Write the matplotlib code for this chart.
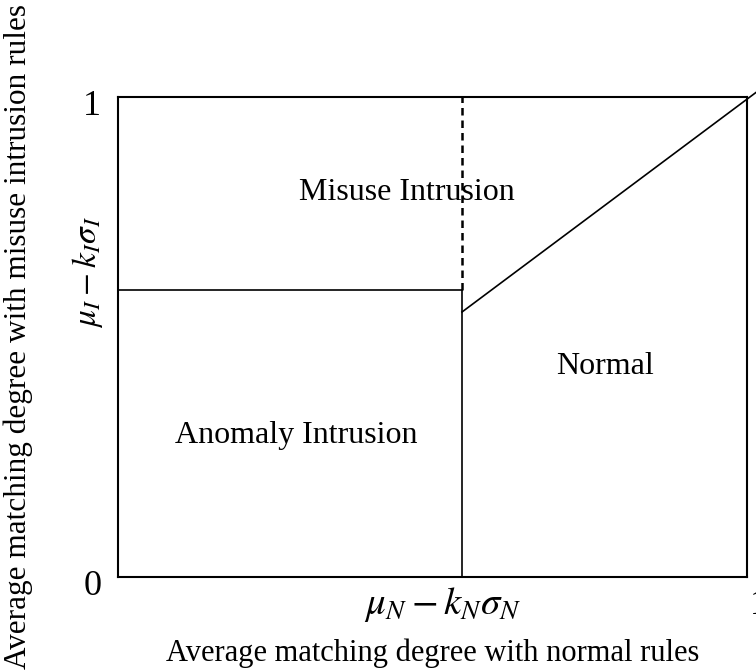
import matplotlib.pyplot as plt
from matplotlib.transforms import ScaledTranslation

plt.rcParams['font.family'] = 'Liberation Serif'
plt.rcParams['mathtext.fontset'] = 'stix'

# thresholds (fraction of the unit square)
x_thr = 0.547   # mu_N - k_N sigma_N
y_thr = 0.598   # mu_I - k_I sigma_I
diag_x = [0.547, 1.015]
diag_y = [0.552, 1.01]

regions = ['Misuse Intrusion', 'Normal', 'Anomaly Intrusion']
region_x = [0.459, 0.774, 0.283]
region_y = [0.80, 0.4375, 0.294]

x_ticks = [x_thr, 1.0]
x_labels = [r'$\mu_N - k_N\sigma_N$', '1']
y_ticks = [0, y_thr, 1]
y_labels = ['0', r'$\mu_I - k_I\sigma_I$', '1']

fig = plt.figure(figsize=(7.56, 6.72), dpi=100)
ax = fig.add_axes([0.156, 0.1414, 0.832, 0.7143])

ax.plot([0, x_thr], [y_thr, y_thr], color='black', lw=1.2)
ax.plot([x_thr, x_thr], [0, y_thr], color='black', lw=1.2)
ax.plot([x_thr, x_thr], [y_thr, 1], color='black', lw=1.8, ls=(0, (3, 2)))
ax.plot(diag_x, diag_y, color='black', lw=1.2, clip_on=False)

for name, tx, ty in zip(regions, region_x, region_y):
    ax.text(tx, ty, name, fontsize=23, ha='center', va='center')

ax.set_xlim(0, 1)
ax.set_ylim(0, 1)
ax.set_xticks(x_ticks)
ax.set_xticklabels(x_labels)
ax.set_yticks(y_ticks)
ax.set_yticklabels(y_labels)
ax.tick_params(length=0)
ax.tick_params(axis='x', pad=6)
ax.tick_params(axis='y', pad=12)


def shift(lbl, dx, dy):
    lbl.set_transform(lbl.get_transform() + ScaledTranslation(dx / 100, dy / 100, fig.dpi_scale_trans))


xl = ax.get_xticklabels()
xl[0].set_fontsize(28)
shift(xl[0], -19, 0)
xl[1].set_fontsize(26)
shift(xl[1], 12, -4)

yl = ax.get_yticklabels()
for lbl in (yl[0], yl[2]):
    lbl.set_fontsize(26)
    shift(lbl, 0, -6)
yl[1].set_fontsize(24)
yl[1].set_rotation(90)
yl[1].set_va('center')
shift(yl[1], 4, 18)

for s in ax.spines.values():
    s.set_linewidth(1.5)

ax.set_xlabel('Average matching degree with normal rules', fontsize=22)
ax.set_ylabel('Average matching degree with misuse intrusion rules', fontsize=22.5)
ax.xaxis.set_label_coords(0.5, -0.128)
ax.yaxis.set_label_coords(-0.135, 0.5)

fig.savefig('out.png', dpi=100)
